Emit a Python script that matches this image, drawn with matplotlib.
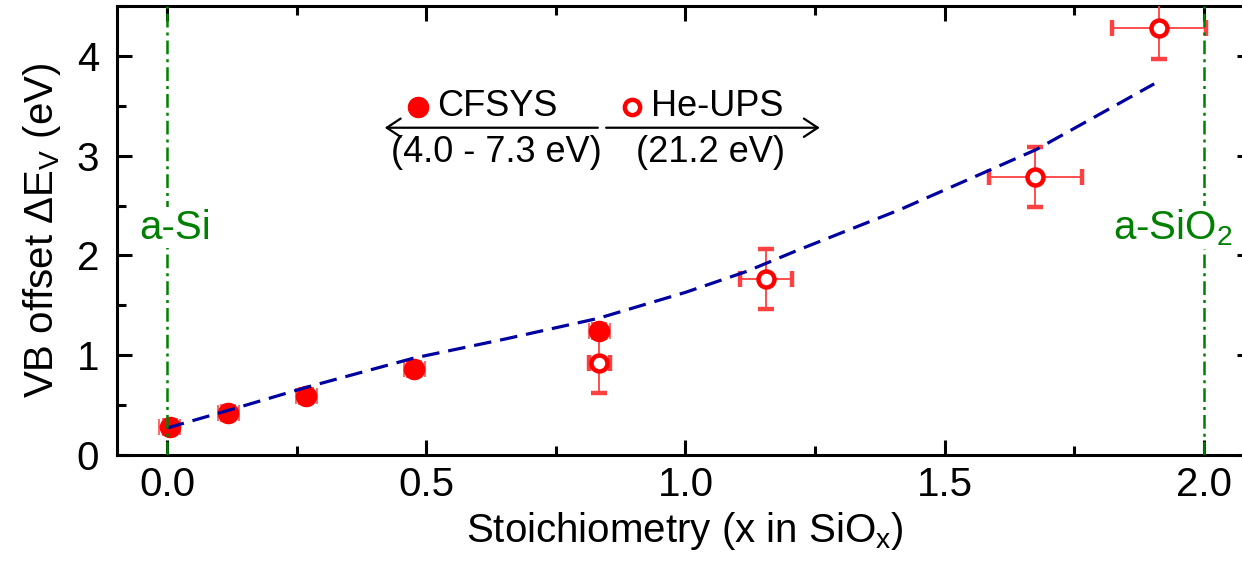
import numpy as np
import matplotlib
matplotlib.use("Agg")
import matplotlib.pyplot as plt
from matplotlib.ticker import MultipleLocator

plt.rcParams['font.family'] = ['Liberation Sans', 'DejaVu Sans']
plt.rcParams['mathtext.fontset'] = 'custom'
plt.rcParams['mathtext.rm'] = 'Liberation Sans'
plt.rcParams['mathtext.it'] = 'Liberation Sans:italic'

# CFSYS (filled) data
cf_x = [0.005, 0.118, 0.269, 0.477, 0.834]
cf_y = [0.28, 0.42, 0.59, 0.86, 1.24]
cf_xerr = [0.02, 0.02, 0.02, 0.02, 0.02]
cf_yerr = [0.08, 0.08, 0.08, 0.08, 0.08]

# He-UPS (open) data
he_x = [0.834, 1.155, 1.675, 1.913]
he_y = [0.925, 1.76, 2.79, 4.28]
he_xerr = [0.02, 0.05, 0.09, 0.09]
he_yerr = [0.3, 0.3, 0.3, 0.31]

# model curve
fit_x = [0.0, 0.12, 0.27, 0.475, 0.65, 0.832, 1.0, 1.118, 1.22, 1.414, 1.676, 1.904]
fit_y = [0.27, 0.45, 0.68, 0.97, 1.16, 1.37, 1.63, 1.84, 2.06, 2.46, 3.06, 3.72]

# reference phases
ref_x = [0.0, 2.0]
ref_names = ['a-Si', 'a-SiO$_2$']

red = '#ff0000'
green = '#008000'
navy = '#0000a0'

fig = plt.figure(figsize=(12.42, 5.71), dpi=100)
ax = fig.add_axes([117 / 1242, 116 / 571, 1135 / 1242, 449 / 571])

ax.errorbar(cf_x, cf_y, xerr=cf_xerr, yerr=cf_yerr, fmt='o', ms=14.5,
            mfc=red, mec=red, ecolor='#ff4040', elinewidth=1.1, capsize=5.5,
            capthick=1.1, zorder=3)
ax.errorbar(he_x, he_y, xerr=he_xerr, yerr=he_yerr, fmt='o', ms=11.5,
            mfc='white', mec=red, mew=3.2, ecolor='#ff4040', elinewidth=1.3,
            capsize=5.5, capthick=1.3, zorder=3)

ax.plot(fit_x, fit_y, color=navy, lw=2.3, dashes=(5.5, 2.8), zorder=4)

for xr in ref_x:
    ax.axvline(xr, color=green, lw=1.8, dashes=(5.5, 2.0, 1.2, 2.0), zorder=5)
ax.text(0.015, 2.28, ref_names[0], color=green, fontsize=29, ha='center',
        va='center', zorder=6,
        bbox=dict(facecolor='white', edgecolor='none', pad=1))
ax.text(1.94, 2.28, ref_names[1], color=green, fontsize=29, ha='center',
        va='center', zorder=6,
        bbox=dict(facecolor='white', edgecolor='none', pad=1))

# legend with energy ranges
ax.plot([0.484], [3.49], 'o', ms=14.5, color=red)
ax.text(0.521, 3.49, 'CFSYS', fontsize=26, va='center', ha='left')
ax.plot([0.897], [3.49], 'o', ms=11, mfc='white', mec=red, mew=3.2)
ax.text(0.933, 3.49, 'He-UPS', fontsize=26, va='center', ha='left')
arr = dict(arrowstyle='->,head_length=0.5,head_width=0.33', lw=1.6,
           color='black', mutation_scale=20, shrinkA=0, shrinkB=0)
ax.annotate('', xy=(0.420, 3.28), xytext=(0.831, 3.28), arrowprops=arr)
ax.annotate('', xy=(1.259, 3.28), xytext=(0.847, 3.28), arrowprops=arr)
ax.text(0.636, 3.03, '(4.0 - 7.3 eV)', fontsize=26, ha='center', va='center')
ax.text(1.049, 3.03, '(21.2 eV)', fontsize=26, ha='center', va='center')

ax.set_xlim(-0.0964, 2.0926)
ax.set_ylim(0, 4.5)
ax.xaxis.set_major_locator(MultipleLocator(0.5))
ax.xaxis.set_minor_locator(MultipleLocator(0.25))
ax.yaxis.set_major_locator(MultipleLocator(1))
ax.yaxis.set_minor_locator(MultipleLocator(0.5))
ax.xaxis.set_major_formatter(matplotlib.ticker.FormatStrFormatter('%.1f'))
ax.tick_params(which='both', direction='in', top=True, right=True, width=2.2)
ax.tick_params(which='major', length=11, labelsize=29)
ax.tick_params(which='minor', length=6.5)
ax.tick_params(axis='x', which='major', pad=8)
ax.tick_params(axis='y', which='major', pad=13)
for sp in ax.spines.values():
    sp.set_linewidth(2.2)

ax.set_xlabel('Stoichiometry (x in SiO$_\\mathrm{x}$)', fontsize=29, labelpad=4)
ax.set_ylabel('VB offset \u0394E$_\\mathrm{V}$ (eV)', fontsize=29, labelpad=10)

fig.savefig('out.png', dpi=100)
